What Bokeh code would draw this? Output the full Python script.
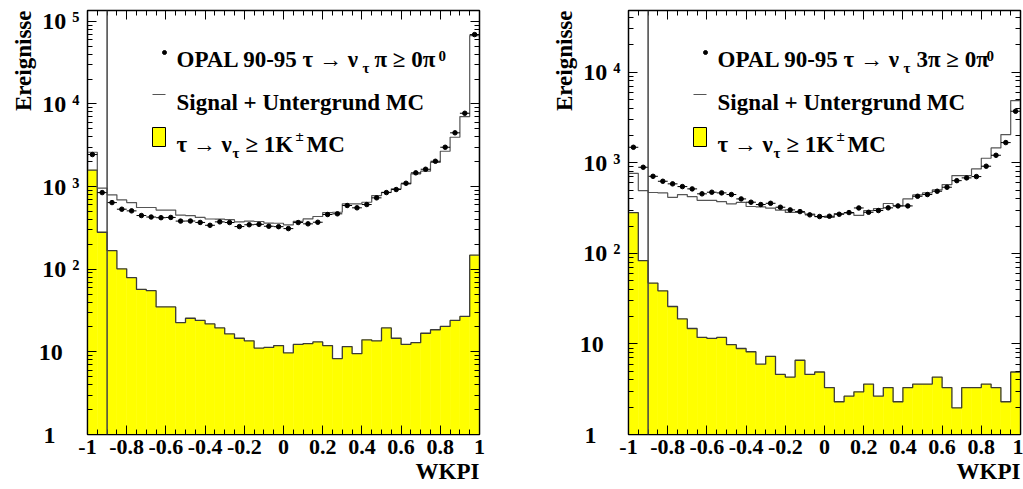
import numpy as np
from bokeh.embed import file_html
from bokeh.layouts import row
from bokeh.models import FixedTicker, Label, LinearAxis, LogAxis, Range1d, Span, Title
from bokeh.plotting import figure
from bokeh.resources import INLINE

# WKPI binning: 40 equal bins over [-1, 1]
bin_edges = np.linspace(-1.0, 1.0, 41)

# tau -> nu_tau pi >= 0 pi0 selection
pi_kaon_mc = [1580, 280, 168, 101, 79, 57, 55, 35, 35, 22.6,
              25.5, 24, 21.8, 19.5, 16.5, 14.6, 13.6, 11.1, 11.3, 11.9,
              9.7, 12.3, 12.6, 13.2, 11.9, 8.3, 11.6, 9.5, 14.0, 13.6,
              19.5, 14.6, 12.3, 12.9, 16.8, 18.5, 20.3, 24.0, 26.8, 148]
pi_total_mc = [2600, 960, 795, 690, 640, 558, 558, 520, 520, 450,
               445, 423, 405, 403, 398, 374, 381, 378, 362, 360,
               343, 380, 406, 434, 485, 489, 618, 618, 646, 778,
               853, 938, 1078, 1425, 1535, 1966, 2673, 3950, 7030, 67100]
pi_data = [2440, 845, 640, 532, 508, 446, 428, 420, 423, 382,
           383, 368, 340, 374, 367, 328, 345, 349, 331, 327,
           310, 367, 354, 370, 459, 468, 590, 553, 606, 730,
           846, 921, 1097, 1466, 1620, 2024, 2990, 4470, 7710, 69000]

# tau -> nu_tau 3pi >= 0 pi0 selection
tpi_kaon_mc = [282, 83, 47, 38.6, 25.9, 18.9, 14.8, 11.8, 11.5, 11.8,
               9.8, 8.9, 8.2, 5.97, 7.3, 4.6, 4.3, 6.6, 4.6, 4.9,
               3.3, 2.3, 2.65, 2.96, 3.6, 2.65, 3.3, 2.3, 3.3, 3.6,
               3.6, 4.3, 3.3, 1.97, 3.3, 3.3, 3.6, 3.3, 2.3, 4.9]
tpi_total_mc = [765, 493, 470, 465, 416, 446, 422, 385, 385, 372,
                352, 365, 329, 326, 315, 300, 283, 283, 272, 255,
                250, 275, 280, 262, 297, 312, 355, 335, 399, 442,
                465, 502, 574, 722, 722, 856, 1122, 1460, 2048, 4857]
tpi_data = [1483, 892, 709, 625, 585, 546, 515, 454, 473, 465,
            446, 399, 367, 346, 357, 323, 302, 289, 266, 255,
            257, 270, 282, 317, 284, 297, 318, 334, 334, 427,
            446, 485, 537, 635, 681, 704, 916, 1210, 1671, 3706]

# Kaon cut position on WKPI
cut_value = -0.9

x_tick_values = [-1.0, -0.8, -0.6, -0.4, -0.2, 0.0, 0.2, 0.4, 0.6, 0.8, 1.0]
x_tick_labels = ["-1", "-0.8", "-0.6", "-0.4", "-0.2", "0", "0.2", "0.4", "0.6", "0.8", "1"]
y_tick_values = [1, 10, 100, 1000, 10000, 100000]
y_tick_labels = ["1\u2002\u2002", "10\u2002\u2009", "10 \u00b2", "10 \u00b3", "10 \u2074", "10 \u2075"]

FONT = "Liberation Serif"
FRAME_W, FRAME_H = 392, 424
TOTAL_H = 489


def outline(edges, values, floor=1.0):
    """Histogram contour: vertical edges plus flat bin tops."""
    xs, ys = [edges[0]], [floor]
    for i, v in enumerate(values):
        xs += [edges[i], edges[i + 1]]
        ys += [v, v]
    xs.append(edges[-1])
    ys.append(floor)
    return xs, ys


def make_panel(kaon, total, data, y_end, head_main, head_tail, offs,
               width, border_left, border_right):
    p = figure(width=width, height=TOTAL_H,
               x_range=Range1d(-1, 1), y_range=Range1d(1, y_end),
               y_axis_type="log", output_backend="svg", toolbar_location=None,
               min_border_left=border_left, min_border_right=border_right,
               min_border_top=10, min_border_bottom=TOTAL_H - 10 - FRAME_H)
    p.xgrid.visible = False
    p.ygrid.visible = False
    p.outline_line_color = "black"
    p.outline_line_width = 1.5
    p.background_fill_color = "white"
    p.border_fill_color = "white"

    xt = FixedTicker(ticks=x_tick_values,
                     minor_ticks=[float(v) for v in np.round(np.arange(-1.0, 1.0001, 0.05), 2)])
    tick_kwargs = dict(major_tick_in=9, major_tick_out=0, minor_tick_in=5, minor_tick_out=0,
                       axis_line_color="black", major_tick_line_color="black",
                       minor_tick_line_color="black")

    xa = p.xaxis[0]
    xa.ticker = xt
    xa.major_label_overrides = dict(zip(x_tick_values, x_tick_labels))
    xa.major_label_text_font = FONT
    xa.major_label_text_font_style = "bold"
    xa.major_label_text_font_size = "22px"
    xa.major_label_text_color = "black"
    xa.major_label_standoff = 5
    for k, v in tick_kwargs.items():
        setattr(xa, k, v)

    ya = p.yaxis[0]
    ya.ticker.num_minor_ticks = 10
    ya.major_label_overrides = dict(zip(y_tick_values, y_tick_labels))
    ya.major_label_text_font = FONT
    ya.major_label_text_font_style = "bold"
    ya.major_label_text_font_size = "24px"
    ya.major_label_text_color = "black"
    ya.major_label_standoff = 8
    for k, v in tick_kwargs.items():
        setattr(ya, k, v)

    # tick marks on the opposite frame edges, without labels
    top = LinearAxis(ticker=xt, major_label_standoff=0,
                     major_label_overrides={v: "" for v in x_tick_values}, **tick_kwargs)
    p.add_layout(top, "above")
    right = LogAxis(major_label_standoff=0,
                    major_label_overrides={v: "" for v in y_tick_values}, **tick_kwargs)
    right.ticker.num_minor_ticks = 10
    p.add_layout(right, "right")

    # axis titles, flush with the far ends of the axes
    title_style = dict(text_font=FONT, text_font_style="bold", text_font_size="23px",
                       text_color="black", align="right", standoff=0)
    p.add_layout(Title(text="Ereignisse", **title_style), "left")
    p.add_layout(Title(text="WKPI", **title_style), "below")

    lo, hi = bin_edges[:-1], bin_edges[1:]
    centers = 0.5 * (lo + hi)

    # kaon MC: yellow filled histogram with dark contour
    p.quad(left=lo, right=hi, bottom=1, top=kaon, fill_color="#ffff00",
           line_color="#ffff00", line_width=0.5)
    kx, ky = outline(bin_edges, kaon)
    p.line(kx, ky, line_color="#3a3a3a", line_width=1.3)

    # signal + background MC: open histogram
    mx, my = outline(bin_edges, total)
    p.line(mx, my, line_color="#555555", line_width=1.2)

    p.add_layout(Span(location=cut_value, dimension="height",
                      line_color="#444444", line_width=1.5))

    # data with horizontal bin-width bars
    p.segment(x0=lo, x1=hi, y0=data, y1=data, line_color="black", line_width=1)
    p.scatter(centers, data, size=4.5, color="black")

    L = float(np.log10(y_end))

    def at(dx, dy):
        return float(-1 + 2 * dx / FRAME_W), float(10 ** (L * (1 - dy / FRAME_H)))

    def text(dx, dy, s, size="23px", **kw):
        x, y = at(dx, dy)
        p.add_layout(Label(x=x, y=y, text=s, text_font=FONT, text_font_style="bold",
                           text_font_size=size, text_color="black",
                           text_baseline="alphabetic", **kw))

    # legend
    dot_x, dot_y = at(77, 42)
    p.scatter([dot_x], [dot_y], size=4, color="black")
    text(89, 49, head_main)
    text(offs[0], 57, "\u03c4", size="15px")
    text(offs[1], 49, head_tail)
    text(offs[2], 45, "0", size="15px")

    d0x, d0y = at(65, 84)
    d1x, _ = at(78, 84)
    p.segment(x0=[d0x], x1=[d1x], y0=[d0y], y1=[d0y], line_color="#555555", line_width=1.2)
    text(89, 92, "Signal + Untergrund MC")

    bx0, by0 = at(65, 136)
    bx1, by1 = at(78, 117)
    p.quad(left=[bx0], right=[bx1], bottom=[by0], top=[by1], fill_color="#ffff00",
           line_color="black", line_width=1)
    text(89, 134, "\u03c4 \u2192 \u03bd")
    text(145, 142, "\u03c4", size="15px")
    text(158, 134, "\u2265 1K")
    text(208, 125, "\u00b1", size="15px")
    text(219, 134, "MC")
    return p


left = make_panel(pi_kaon_mc, pi_total_mc, pi_data, 1.35e5,
                  "OPAL 90-95 \u03c4 \u2192 \u03bd", "\u03c0 \u2265 0\u03c0", (275, 287, 351),
                  width=520, border_left=87, border_right=41)
right = make_panel(tpi_kaon_mc, tpi_total_mc, tpi_data, 4.8e4,
                   "OPAL 90-95 \u03c4 \u2192 \u03bd", "3\u03c0 \u2265 0\u03c0", (275, 288, 358),
                   width=503, border_left=108, border_right=3)

layout = row(left, right)
open("out.html", "w").write(file_html(layout, INLINE))
